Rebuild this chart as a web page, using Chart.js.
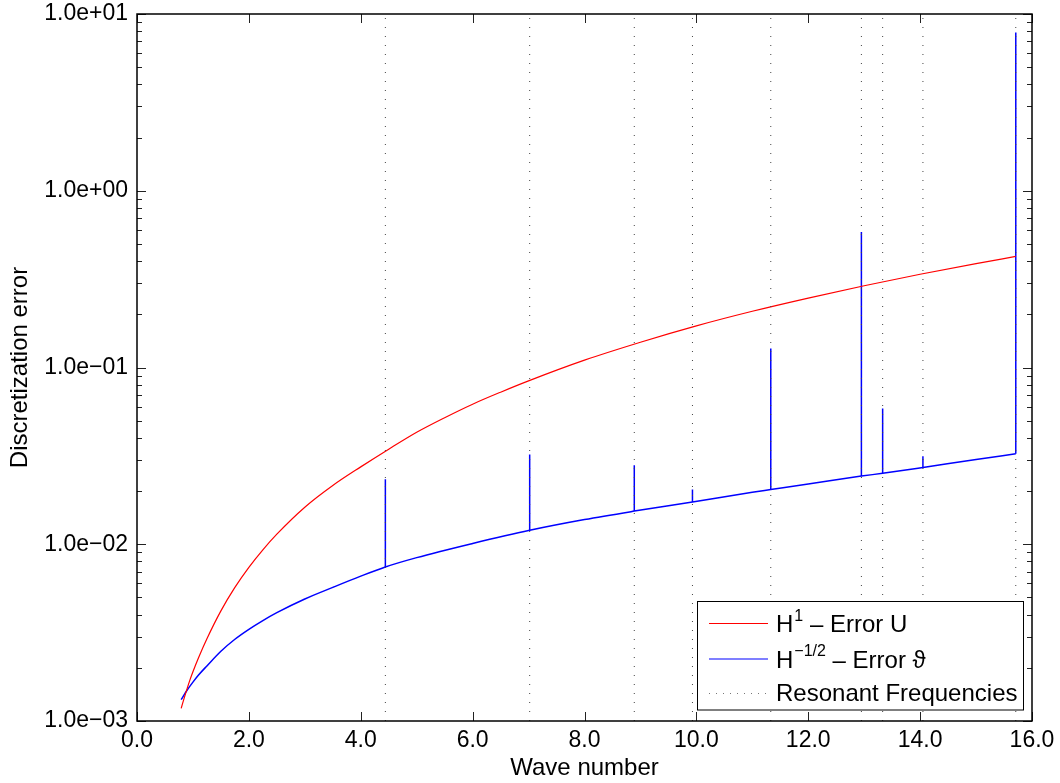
<!DOCTYPE html>
<html lang="en">
<head>
<meta charset="utf-8">
<title>Discretization error</title>
<script src="https://cdn.jsdelivr.net/npm/chart.js@4.4.0/dist/chart.umd.min.js"></script>
<style>
  body { margin: 0; background: #fff; }
</style>
</head>
<body>
<canvas id="myChart" width="1060" height="783"></canvas>
<script>
// H^1 error of U (red)
const redK   = [0.79, 0.85, 0.9, 0.95, 1.0, 1.1, 1.25, 1.5, 1.75, 2.0, 2.25, 2.5, 3.0, 3.5, 4.0, 4.5, 5.0, 5.5, 6.0, 6.5, 7.0, 8.0, 9.0, 10.0, 11.0, 12.0, 13.0, 14.0, 15.0, 15.71];
const redErr = [0.00118, 0.00137, 0.00154, 0.00172, 0.0019, 0.00228, 0.00292, 0.0042, 0.0057, 0.0074, 0.0093, 0.0114, 0.0162, 0.0215, 0.0274, 0.0345, 0.043, 0.052, 0.062, 0.0725, 0.084, 0.11, 0.139, 0.172, 0.208, 0.247, 0.29, 0.337, 0.387, 0.425];

// H^-1/2 error of theta (blue), smooth part
const blueK   = [0.79, 0.85, 0.9, 0.95, 1.0, 1.1, 1.25, 1.5, 1.75, 2.0, 2.25, 2.5, 3.0, 3.5, 4.0, 4.44, 5.0, 6.0, 7.02, 8.0, 8.89, 9.93, 11.0, 11.33, 12.0, 12.95, 13.33, 14.05, 15.0, 15.71];
const blueErr = [0.00132, 0.00142, 0.0015, 0.00158, 0.00166, 0.00182, 0.00205, 0.00248, 0.0029, 0.0033, 0.0037, 0.0041, 0.0049, 0.0057, 0.0066, 0.00744, 0.0084, 0.0101, 0.012, 0.0138, 0.0154, 0.01735, 0.0197, 0.0204, 0.0219, 0.0243, 0.0252, 0.0272, 0.0302, 0.0325];

// resonant frequencies and the peak of the blue error there
const resonantK = [4.44, 7.02, 8.89, 9.93, 11.33, 12.95, 13.33, 14.05, 15.71];
const spikeTop  = [0.0233, 0.0322, 0.028, 0.0204, 0.128, 0.584, 0.0586, 0.0315, 7.87];

const xTicks = [0, 2, 4, 6, 8, 10, 12, 14, 16];
const yTicks = [1e-3, 1e-2, 1e-1, 1, 10];
const yTickLabels = ['1.0e\u221203', '1.0e\u221202', '1.0e\u221201', '1.0e+00', '1.0e+01'];

const FONT = "'Liberation Sans', Arial, Helvetica, sans-serif";

const redPts = redK.map((k, i) => ({x: k, y: redErr[i]}));
const bluePts = blueK.map((k, i) => ({x: k, y: blueErr[i]}));

// vertical jumps of the blue error at each resonance
const spikePts = [];
resonantK.forEach((k, r) => {
    spikePts.push({x: k, y: blueErr[blueK.indexOf(k)]});
    spikePts.push({x: k, y: spikeTop[r]});
    spikePts.push({x: k, y: null});
});

const resPts = [];
resonantK.forEach(k => {
    resPts.push({x: k, y: yTicks[0]});
    resPts.push({x: k, y: yTicks[yTicks.length - 1]});
    resPts.push({x: k, y: null});
});

// MATLAB style box, inward ticks and legend
const axesBox = {
    id: 'axesBox',
    afterDatasetsDraw(chart) {
        const {ctx, chartArea: a, scales: {x, y}} = chart;
        ctx.save();
        ctx.strokeStyle = '#222';
        ctx.lineWidth = 1;
        ctx.beginPath();
        xTicks.forEach(v => {
            const px = Math.round(x.getPixelForValue(v)) + 0.5;
            ctx.moveTo(px, a.bottom); ctx.lineTo(px, a.bottom - 9);
            ctx.moveTo(px, a.top); ctx.lineTo(px, a.top + 9);
        });
        for (let e = -3; e <= 1; e++) {
            for (let m = 1; m <= 9; m++) {
                const v = m * Math.pow(10, e);
                if (v > 10 + 1e-9) continue;
                const py = Math.round(y.getPixelForValue(v)) + 0.5;
                const len = m === 1 ? 9 : 5;
                ctx.moveTo(a.left, py); ctx.lineTo(a.left + len, py);
                ctx.moveTo(a.right, py); ctx.lineTo(a.right - len, py);
            }
        }
        ctx.stroke();

        ctx.strokeStyle = '#000';
        ctx.lineWidth = 1.5;
        ctx.strokeRect(a.left, a.top, a.right - a.left, a.bottom - a.top);

        // legend
        const L = 697.5, T = 601.5, R = 1023.5, B = 710;
        ctx.fillStyle = '#fff';
        ctx.fillRect(L, T, R - L, B - T);
        ctx.lineWidth = 1;
        ctx.strokeStyle = '#000';
        ctx.strokeRect(L, T, R - L, B - T);

        const rows = [623.5, 659, 693.5];
        const lx0 = 709, lx1 = 768, tx = 776;
        ctx.lineWidth = 1.2;
        ctx.strokeStyle = '#ff0000';
        ctx.beginPath(); ctx.moveTo(lx0, rows[0]); ctx.lineTo(lx1, rows[0]); ctx.stroke();
        ctx.strokeStyle = '#0000ff';
        ctx.beginPath(); ctx.moveTo(lx0, rows[1]); ctx.lineTo(lx1, rows[1]); ctx.stroke();
        ctx.strokeStyle = '#777';
        ctx.lineWidth = 1;
        ctx.setLineDash([1, 6]);
        ctx.beginPath(); ctx.moveTo(lx0, rows[2]); ctx.lineTo(lx1, rows[2]); ctx.stroke();
        ctx.setLineDash([]);

        ctx.fillStyle = '#000';
        ctx.textBaseline = 'middle';
        ctx.textAlign = 'left';
        const big = '24px ' + FONT, small = '16px ' + FONT;
        function supText(row, sup, rest) {
            let cx = tx;
            ctx.font = big;
            ctx.fillText('H', cx, row + 2);
            cx += ctx.measureText('H').width + 1;
            ctx.font = small;
            ctx.fillText(sup, cx, row - 7);
            cx += ctx.measureText(sup).width;
            ctx.font = big;
            ctx.fillText(rest, cx, row + 2);
        }
        supText(rows[0], '1', ' \u2013 Error U');
        supText(rows[1], '\u22121/2', ' \u2013 Error \u03d1');
        ctx.font = big;
        ctx.fillText('Resonant Frequencies', tx, rows[2] + 1);
        ctx.restore();
    }
};

new Chart(document.getElementById('myChart'), {
    type: 'line',
    data: {
        datasets: [
            {
                label: 'Resonant Frequencies',
                data: resPts,
                borderColor: '#444',
                borderWidth: 1,
                borderDash: [1, 8],
                pointRadius: 0,
                spanGaps: false
            },
            {
                label: 'H1 - Error U',
                data: redPts,
                borderColor: '#ff0000',
                borderWidth: 1.2,
                pointRadius: 0,
                cubicInterpolationMode: 'monotone'
            },
            {
                label: 'H-1/2 - Error theta',
                data: bluePts,
                borderColor: '#0000ff',
                borderWidth: 1.5,
                pointRadius: 0,
                cubicInterpolationMode: 'monotone'
            },
            {
                label: 'H-1/2 - Error theta (resonances)',
                data: spikePts,
                borderColor: '#0000ff',
                borderWidth: 1.5,
                pointRadius: 0,
                spanGaps: false
            }
        ]
    },
    options: {
        responsive: false,
        animation: false,
        devicePixelRatio: 1,
        layout: { padding: { left: 0, right: 28, top: 14, bottom: 0 } },
        plugins: { legend: { display: false }, tooltip: { enabled: false } },
        elements: { line: { tension: 0 } },
        scales: {
            x: {
                type: 'linear',
                min: 0, max: 16,
                afterBuildTicks: s => { s.ticks = xTicks.map(v => ({value: v})); },
                afterFit: s => { s.height = 62; s.paddingLeft = 0; s.paddingRight = 0; },
                grid: { display: false, drawTicks: false },
                border: { display: false },
                ticks: {
                    color: '#000',
                    font: { family: FONT, size: 23 },
                    padding: 6,
                    maxRotation: 0,
                    callback: v => v.toFixed(1)
                },
                title: {
                    display: true,
                    text: 'Wave number',
                    color: '#000',
                    font: { family: FONT, size: 24 },
                    padding: { top: 0, bottom: 0 }
                }
            },
            y: {
                type: 'logarithmic',
                min: 1e-3, max: 10,
                afterBuildTicks: s => { s.ticks = yTicks.map(v => ({value: v})); },
                afterFit: s => { s.width = 137; s.paddingTop = 0; s.paddingBottom = 0; },
                grid: { display: false, drawTicks: false },
                border: { display: false },
                ticks: {
                    color: '#000',
                    font: { family: FONT, size: 23 },
                    padding: 9,
                    callback: v => yTickLabels[yTicks.indexOf(v)]
                },
                title: {
                    display: true,
                    text: 'Discretization error',
                    color: '#000',
                    font: { family: FONT, size: 24 },
                    padding: { top: 6, bottom: 0 }
                }
            }
        }
    },
    plugins: [axesBox]
});
</script>
</body>
</html>
